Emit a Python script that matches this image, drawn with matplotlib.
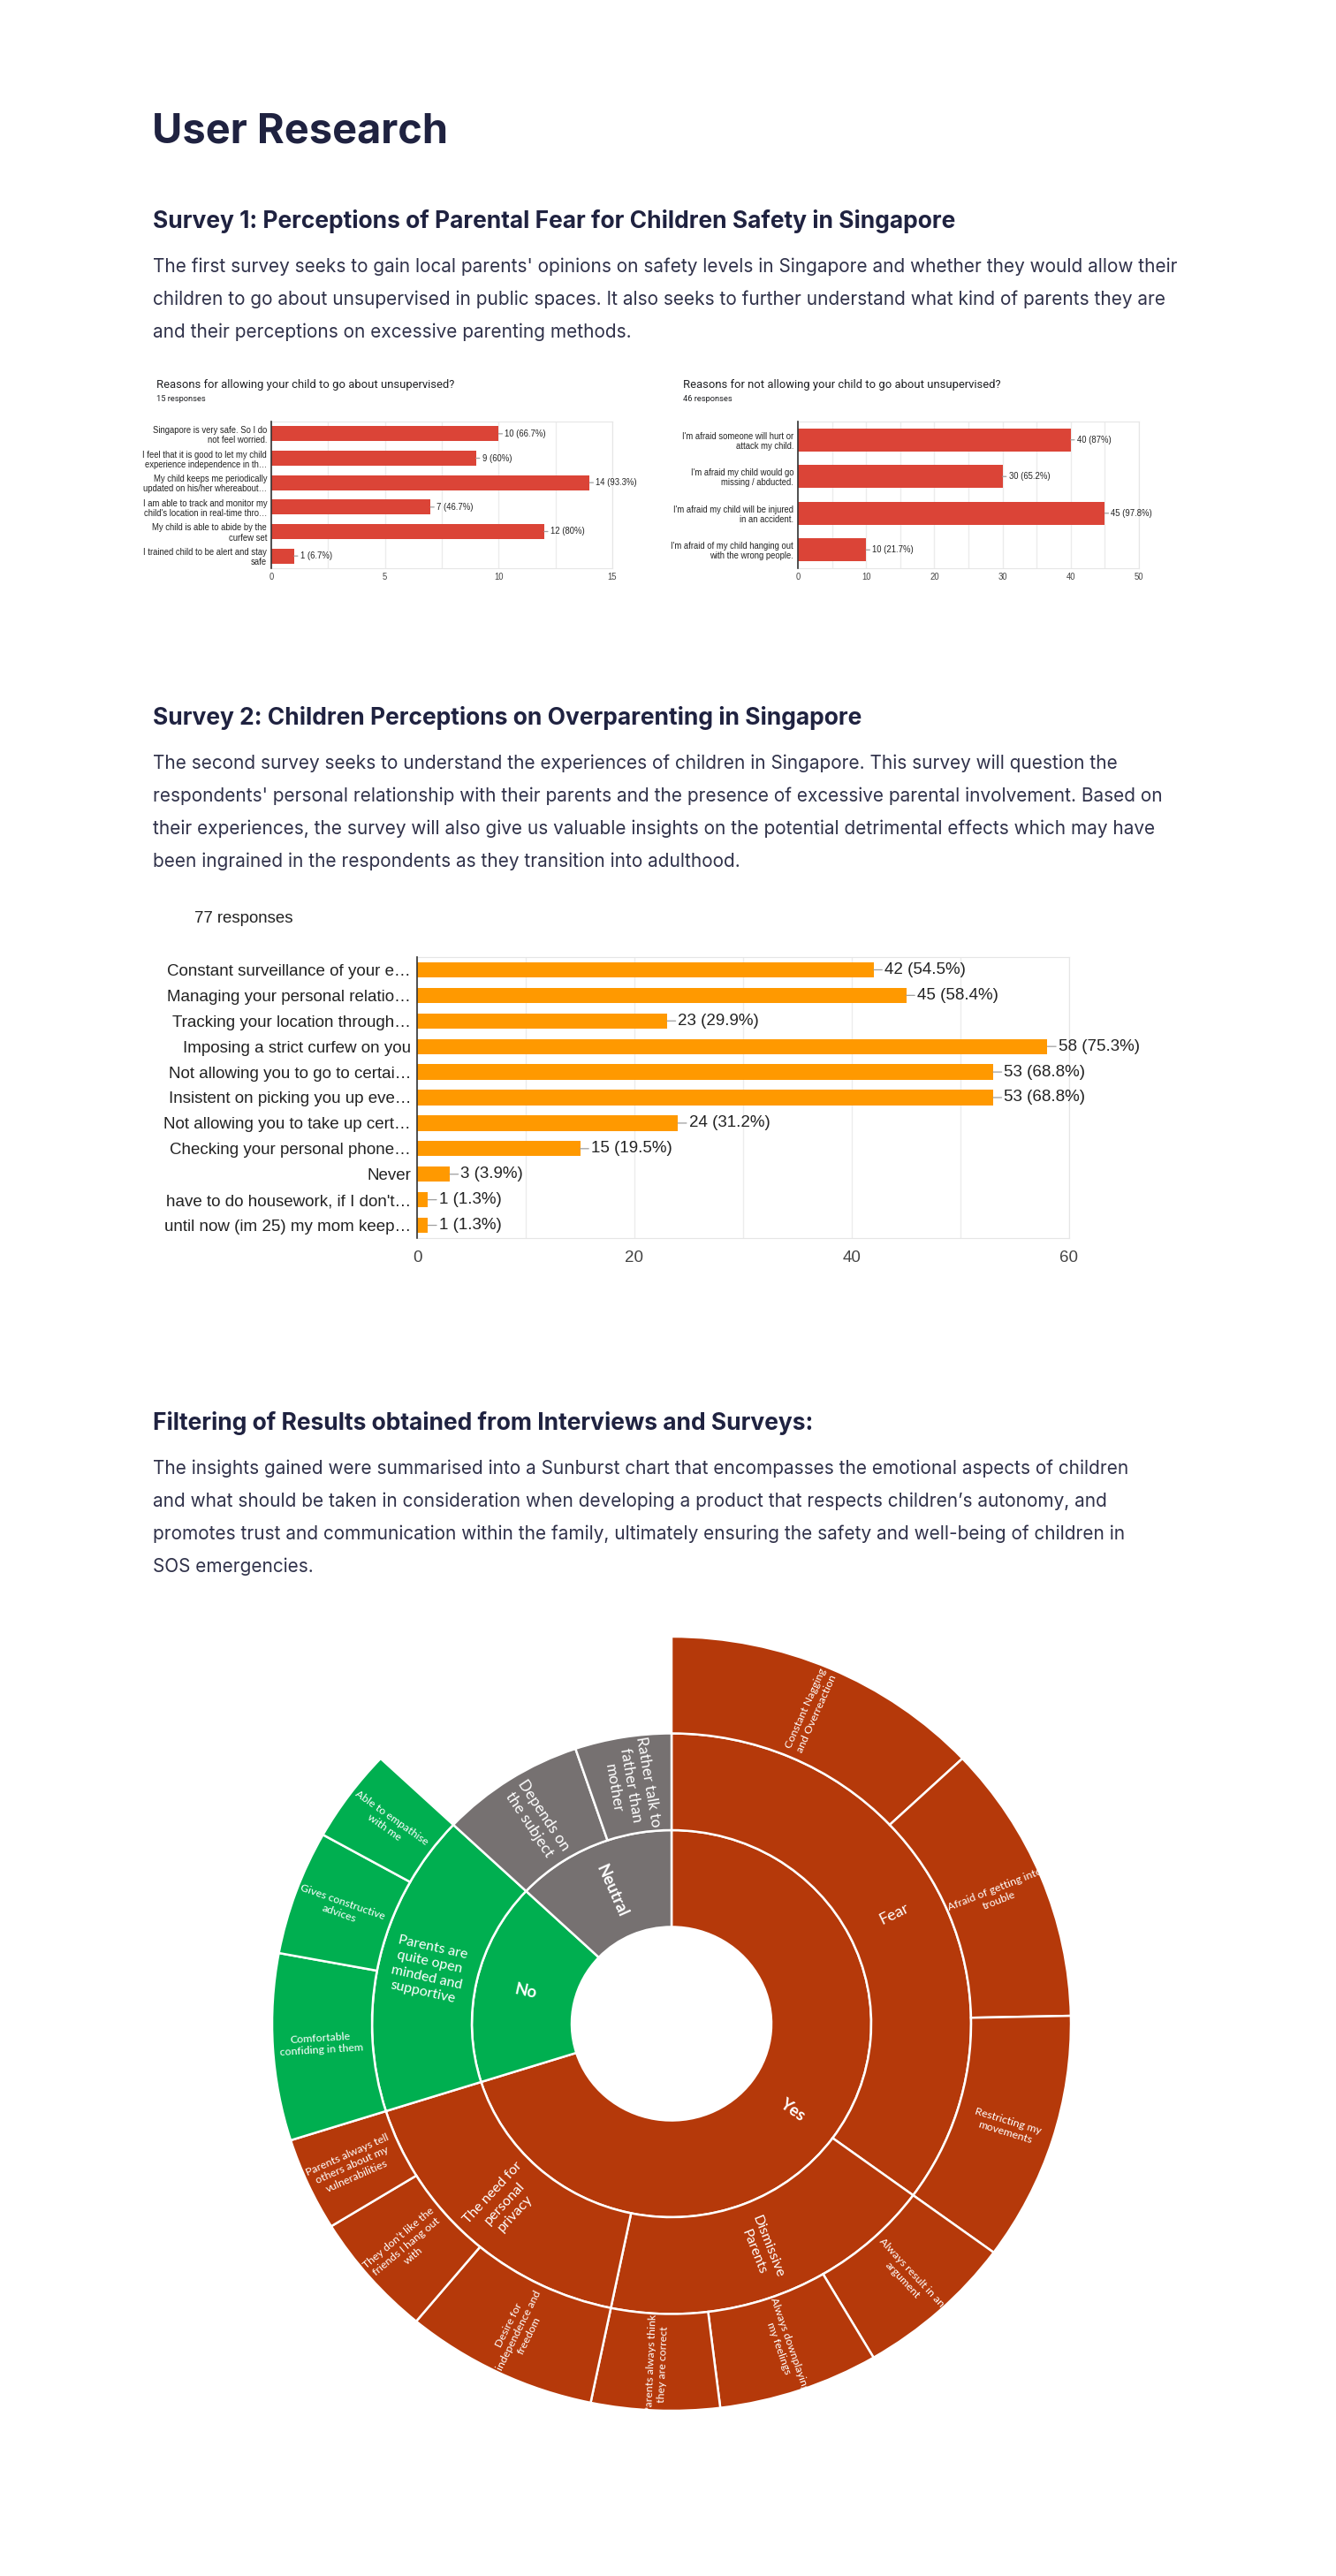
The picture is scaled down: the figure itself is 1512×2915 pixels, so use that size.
import numpy as np
import matplotlib
matplotlib.use("Agg")
import matplotlib.pyplot as plt
from matplotlib.patches import Wedge
from matplotlib.font_manager import FontProperties, fontManager

# ---------------- data ----------------
page_title = "User Research"
h_survey1 = "Survey 1: Perceptions of Parental Fear for Children Safety in Singapore"
p_survey1 = [
    "The first survey seeks to gain local parents' opinions on safety levels in Singapore and whether they would allow their",
    "children to go about unsupervised in public spaces. It also seeks to further understand what kind of parents they are",
    "and their perceptions on excessive parenting methods.",
]
h_survey2 = "Survey 2: Children Perceptions on Overparenting in Singapore"
p_survey2 = [
    "The second survey seeks to understand the experiences of children in Singapore. This survey will question the",
    "respondents' personal relationship with their parents and the presence of excessive parental involvement. Based on",
    "their experiences, the survey will also give us valuable insights on the potential detrimental effects which may have",
    "been ingrained in the respondents as they transition into adulthood.",
]
h_filter = "Filtering of Results obtained from Interviews and Surveys:"
p_filter = [
    "The insights gained were summarised into a Sunburst chart that encompasses the emotional aspects of children",
    "and what should be taken in consideration when developing a product that respects children\u2019s autonomy, and",
    "promotes trust and communication within the family, ultimately ensuring the safety and well-being of children in",
    "SOS emergencies.",
]

s1_title = "Reasons for allowing your child to go about unsupervised?"
s1_responses = 15
s1_labels = [
    "Singapore is very safe. So I do\nnot feel worried.",
    "I feel that it is good to let my child\nexperience independence in th\u2026",
    "My child keeps me periodically\nupdated on his/her whereabout\u2026",
    "I am able to track and monitor my\nchild's location in real-time thro\u2026",
    "My child is able to abide by the\ncurfew set",
    "I trained child to be alert and stay\nsafe",
]
s1_values = [10, 9, 14, 7, 12, 1]
s1_ticks = [0, 5, 10, 15]

s2_title = "Reasons for not allowing your child to go about unsupervised?"
s2_responses = 46
s2_labels = [
    "I'm afraid someone will hurt or\nattack my child.",
    "I'm afraid my child would go\nmissing / abducted.",
    "I'm afraid my child will be injured\nin an accident.",
    "I'm afraid of my child hanging out\nwith the wrong people.",
]
s2_values = [40, 30, 45, 10]
s2_ticks = [0, 10, 20, 30, 40, 50]

s3_responses = 77
s3_labels = [
    "Constant surveillance of your e\u2026",
    "Managing your personal relatio\u2026",
    "Tracking your location through\u2026",
    "Imposing a strict curfew on you",
    "Not allowing you to go to certai\u2026",
    "Insistent on picking you up eve\u2026",
    "Not allowing you to take up cert\u2026",
    "Checking your personal phone\u2026",
    "Never",
    "have to do housework, if I don't\u2026",
    "until now (im 25) my mom keep\u2026",
]
s3_values = [42, 45, 23, 58, 53, 53, 24, 15, 3, 1, 1]
s3_ticks = [0, 20, 40, 60]

# sunburst hierarchy
sb_top = ["Yes", "No", "Neutral"]
sb_top_colors = ["#B5390A", "#00AF50", "#767171"]
sb_mid = ["Fear", "Dismissive\nParents", "The need for\npersonal\nprivacy",
          "Parents are\nquite open\nminded and\nsupportive",
          "Depends on\nthe subject", "Rather talk to\nfather than\nmother"]
sb_mid_parent = [0, 0, 0, 1, 2, 2]
sb_mid_own_value = [0, 0, 0, 0, 6, 4]
sb_leaf = ["Constant Nagging\nand Overreaction", "Afraid of getting into\ntrouble",
           "Restricting my\nmovements",
           "Always result in an\nargument", "Always downplaying\nmy feelings",
           "Parents always think\nthey are correct",
           "Desire for\nindependence and\nfreedom", "They don\u2019t like the\nfriends I hang out\nwith",
           "Parents always tell\nothers about my\nvulnerabilities",
           "Comfortable\nconfiding in them", "Gives constructive\nadvices", "Able to empathise\nwith me"]
sb_leaf_parent = [0, 0, 0, 1, 1, 1, 2, 2, 2, 3, 3, 3]
sb_leaf_value = [10, 9, 8, 5, 5, 4, 6, 4, 3, 6, 4, 3]

# ---------------- figure ----------------
W, H, DPI = 1512, 2915, 100
fig = plt.figure(figsize=(W / DPI, H / DPI), dpi=DPI)
fig.patch.set_facecolor("white")
renderer = fig.canvas.get_renderer()

names = {f.name for f in fontManager.ttflist}
def pick(*cands):
    for c in cands:
        if c in names:
            return c
    return "DejaVu Sans"

PAGE_FONT = pick("Inter", "Lato", "Open Sans")
CHART_FONT = pick("Liberation Sans", "Arimo", "DejaVu Sans")
TITLE_FONT = pick("Roboto", "Liberation Sans")
SB_FONT = pick("Lato", "Open Sans", "Noto Sans")

def fx(x):
    return x / W
def fy(y):
    return 1 - y / H
def add_ax(x0, y0, x1, y1):
    return fig.add_axes([x0 / W, 1 - y1 / H, (x1 - x0) / W, (y1 - y0) / H])

def text_w(s, family, size, weight="normal"):
    fp = FontProperties(family=family, size=size, weight=weight)
    w, h, d = renderer.get_text_width_height_descent(s, fp, ismath=False)
    return w

def fit(s, family, target, weight="normal"):
    return 10.0 * target / text_w(s, family, 10.0, weight)

HEAD_C = "#1f2240"
BODY_C = "#30324a"

# ---------------- page text ----------------
title_fs = fit(page_title, PAGE_FONT, 335, "bold")
fig.text(fx(172), fy(150), page_title, fontsize=title_fs, fontweight="bold",
         family=PAGE_FONT, color=HEAD_C, va="center", ha="left")

head_fs = fit(h_survey1, PAGE_FONT, 910, "bold")
body_fs = fit(p_survey1[0], PAGE_FONT, 1162)

def para(lines, y0):
    for i, ln in enumerate(lines):
        fig.text(fx(173), fy(y0 + 37 * i), ln, fontsize=body_fs, family=PAGE_FONT,
                 color=BODY_C, va="center", ha="left")

fig.text(fx(173), fy(250), h_survey1, fontsize=head_fs, fontweight="bold",
         family=PAGE_FONT, color=HEAD_C, va="center", ha="left")
para(p_survey1, 302)
fig.text(fx(173), fy(812), h_survey2, fontsize=head_fs, fontweight="bold",
         family=PAGE_FONT, color=HEAD_C, va="center", ha="left")
para(p_survey2, 864)
fig.text(fx(173), fy(1610), h_filter, fontsize=head_fs, fontweight="bold",
         family=PAGE_FONT, color=HEAD_C, va="center", ha="left")
para(p_filter, 1662)

# ---------------- google-forms style bar charts ----------------
def pct(v, n):
    p = round(100.0 * v / n, 1)
    s = ("%.1f" % p).rstrip("0").rstrip(".")
    return "%d (%s%%)" % (v, s)

def gchart(ax, labels, values, n, color, ticks, minor_step, fs, gap, bar_h, lead):
    y = np.arange(len(values))
    ax.barh(y, values, height=bar_h, color=color, zorder=3)
    ax.set_ylim(len(values) - 0.5, -0.5)
    ax.set_xlim(ticks[0], ticks[-1])
    ax.set_xticks(ticks)
    ax.set_xticks(np.arange(ticks[0], ticks[-1] + 1e-9, minor_step), minor=True)
    ax.grid(axis="x", which="both", color="#ececec", lw=1, zorder=0)
    ax.set_yticks(y)
    ax.set_yticklabels(labels, fontsize=fs, family=CHART_FONT, color="#222222",
                       linespacing=1.15)
    ax.tick_params(axis="y", length=0, pad=gap)
    ax.tick_params(axis="x", which="both", length=0, pad=gap, labelsize=fs,
                   labelcolor="#444444")
    for lab in ax.get_xticklabels():
        lab.set_family(CHART_FONT)
    for sp in ["top", "right", "bottom"]:
        ax.spines[sp].set_color("#e6e6e6")
        ax.spines[sp].set_linewidth(0.8)
    ax.spines["left"].set_color("#333333")
    ax.spines["left"].set_linewidth(1.2)
    ax.spines["left"].set_zorder(5)
    for i, v in enumerate(values):
        ax.annotate(pct(v, n), xy=(v, i), xytext=(lead, 0),
                    textcoords="offset points", va="center", ha="left",
                    fontsize=fs, family=CHART_FONT, color="#222222",
                    arrowprops=dict(arrowstyle="-", color="#9e9e9e", lw=0.9,
                                    shrinkA=0, shrinkB=0), zorder=4,
                    annotation_clip=False)

small_fs = fit(s1_labels[0].split("\n")[0], CHART_FONT, 130)
ctitle_fs = fit(s1_title, TITLE_FONT, 335)
resp_fs = fit("15 responses", TITLE_FONT, 56)

fig.text(fx(177), fy(435), s1_title, fontsize=ctitle_fs, family=TITLE_FONT,
         color="#202124", va="center")
fig.text(fx(177), fy(451), "%d responses" % s1_responses, fontsize=resp_fs,
         family=TITLE_FONT, color="#202124", va="center")
ax1 = add_ax(307, 477, 693, 643)
gchart(ax1, s1_labels, s1_values, s1_responses, "#DB4437", s1_ticks, 2.5,
       small_fs, 3.5, 0.62, 5)

fig.text(fx(773), fy(435), s2_title, fontsize=ctitle_fs, family=TITLE_FONT,
         color="#202124", va="center")
fig.text(fx(773), fy(451), "%d responses" % s2_responses, fontsize=resp_fs,
         family=TITLE_FONT, color="#202124", va="center")
ax2 = add_ax(903, 477, 1289, 643)
gchart(ax2, s2_labels, s2_values, s2_responses, "#DB4437", s2_ticks, 5,
       small_fs, 3.5, 0.62, 5)

big_fs = fit(s3_labels[0], CHART_FONT, 278)
fig.text(fx(220), fy(1040), "%d responses" % s3_responses,
         fontsize=fit("77 responses", CHART_FONT, 112), family=CHART_FONT,
         color="#222222", va="center")
ax3 = add_ax(472, 1083, 1210, 1401)
gchart(ax3, s3_labels, s3_values, s3_responses, "#FF9900", s3_ticks, 10,
       big_fs, 5, 0.6, 9)
ax3.tick_params(axis="x", pad=10)

# ---------------- sunburst ----------------
CX, CY = 760, 2290
KX, KY = 452.0, 438.0
axs = add_ax(CX - 480, CY - 480, CX + 480, CY + 480)
axs.set_xlim(-480 / KX, 480 / KX)
axs.set_ylim(-480 / KY, 480 / KY)
axs.set_axis_off()

mid_value = list(sb_mid_own_value)
for v, p in zip(sb_leaf_value, sb_leaf_parent):
    mid_value[p] += v
top_value = [0] * len(sb_top)
for v, p in zip(mid_value, sb_mid_parent):
    top_value[p] += v
total = float(sum(top_value))
deg = 360.0 / total

R0, R1, R2, R3 = 0.25, 0.5, 0.75, 1.0

def seg_angles(values):
    out, cum = [], 0.0
    for v in values:
        hi = 90 - cum * deg
        lo = hi - v * deg
        out.append((lo, hi))
        cum += v
    return out

top_ang = seg_angles(top_value)
mid_ang = seg_angles(mid_value)
leaf_ang = []
cum_in = {}
for v, p in zip(sb_leaf_value, sb_leaf_parent):
    c = cum_in.get(p, 0.0)
    hi = mid_ang[p][1] - c * deg
    leaf_ang.append((hi - v * deg, hi))
    cum_in[p] = c + v

def label(theta, r, s, fs, bold=False, ls=1.2):
    t = np.radians(theta)
    x, y = r * np.cos(t), r * np.sin(t)
    a = np.degrees(np.arctan2(KY * np.sin(t), KX * np.cos(t)))
    a = (a + 180) % 360 - 180
    if a > 90.5 or a < -90.5:
        a -= 180 if a > 0 else -180
    axs.text(x, y, s, rotation=a, rotation_mode="anchor", ha="center", va="center",
             fontsize=fs, color="white", family=SB_FONT,
             fontweight="bold" if bold else "normal", linespacing=ls, zorder=5)

EDGE = dict(edgecolor="white", linewidth=1.8)
for i, (lo, hi) in enumerate(top_ang):
    axs.add_patch(Wedge((0, 0), R1, lo, hi, width=R1 - R0,
                        facecolor=sb_top_colors[i], **EDGE))
    label((lo + hi) / 2, (R0 + R1) / 2, sb_top[i], 13.5, bold=True)
for j, (lo, hi) in enumerate(mid_ang):
    col = sb_top_colors[sb_mid_parent[j]]
    axs.add_patch(Wedge((0, 0), R2, lo, hi, width=R2 - R1, facecolor=col, **EDGE))
    fsz = 12.5 if sb_mid_parent[j] == 2 else 11.5
    if j == 0:
        fsz = 13
    label((lo + hi) / 2, (R1 + R2) / 2, sb_mid[j], fsz, ls=1.3)
for k, (lo, hi) in enumerate(leaf_ang):
    col = sb_top_colors[sb_mid_parent[sb_leaf_parent[k]]]
    axs.add_patch(Wedge((0, 0), R3, lo, hi, width=R3 - R2, facecolor=col, **EDGE))
    label((lo + hi) / 2, (R2 + R3) / 2 + 0.005, sb_leaf[k], 8.9, ls=1.25)

fig.savefig("out.png", dpi=DPI, facecolor="white")
